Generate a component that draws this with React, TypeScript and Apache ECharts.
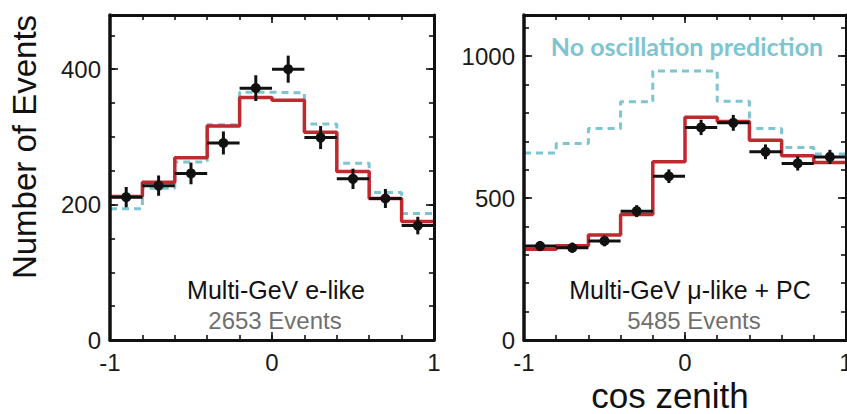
import { useEffect, useRef } from 'react';
import * as echarts from 'echarts';

// Zenith-angle bins (cos θ), shared by both panels
const binEdges = [-1, -0.8, -0.6, -0.4, -0.2, 0, 0.2, 0.4, 0.6, 0.8, 1];

// Multi-GeV e-like
const eLikeObserved = [211, 228, 246, 291, 372, 400, 299, 238, 209, 169];
const eLikeError = [15, 15, 16, 17, 19, 20, 17, 15, 14, 13];
const eLikeOscillation = [212, 233, 269, 316, 358, 354, 307, 249, 209, 175];
const eLikeNoOscillation = [194, 224, 263, 318, 366, 365, 319, 261, 218, 187];

// Multi-GeV mu-like + PC
const muLikeObserved = [331, 325, 349, 454, 577, 749, 765, 663, 622, 645];
const muLikeError = [18, 18, 19, 21, 24, 27, 28, 26, 25, 25];
const muLikeOscillation = [320, 332, 370, 442, 628, 785, 770, 704, 649, 625];
const muLikeNoOscillation = [659, 692, 745, 839, 948, 948, 841, 745, 678, 655];

// Axis ticks
const xMajorStep = 1;
const xMinorStep = 0.2;
const eLikeYMax = 480;
const eLikeYMajor = 200;
const eLikeYMinor = 50;
const muLikeYMax = 1145;
const muLikeYMajor = 500;
const muLikeYMinor = 100;

const FONT = '"Liberation Sans", Arial, Helvetica, sans-serif';
const INK = '#111111';
const RED = '#c0292d';
const CYAN = '#7ec5d1';
const GREY = '#6f6f6f';

const binCenters = binEdges.slice(0, -1).map((e, i) => (e + binEdges[i + 1]) / 2);
const halfBin = (binEdges[1] - binEdges[0]) / 2;

function stepPoints(values: number[]) {
  const pts: number[][] = values.map((v, i) => [binEdges[i], v]);
  pts.push([binEdges[binEdges.length - 1], values[values.length - 1]]);
  return pts;
}

const tickStyle = { color: INK, width: 1.6 };

function axisSet(
  kind: 'x' | 'y',
  gridIndex: number,
  min: number,
  max: number,
  major: number,
  minor: number,
) {
  const sides = kind === 'x' ? ['bottom', 'top'] : ['left', 'right'];
  const out: any[] = [];
  sides.forEach((pos, sideIdx) => {
    const base = {
      type: 'value',
      gridIndex,
      position: pos,
      min,
      max,
      z: 10,
      splitLine: { show: false },
    };
    const lineWidth = kind === 'y' && sideIdx === 0 ? 3.5 : 3;
    out.push({
      ...base,
      interval: major,
      axisLine: { show: true, onZero: false, lineStyle: { color: INK, width: lineWidth } },
      axisTick: { show: true, inside: true, length: 8, lineStyle: tickStyle },
      axisLabel:
        sideIdx === 0
          ? {
              show: true,
              margin: kind === 'x' ? 10 : 9,
              fontSize: 24,
              fontFamily: FONT,
              color: '#1a1a1a',
              hideOverlap: false,
              formatter: (v: number) =>
                Math.abs(v / major - Math.round(v / major)) < 1e-6 ? String(v) : '',
            }
          : { show: false },
    });
    out.push({
      ...base,
      interval: minor,
      axisLine: { show: false, onZero: false },
      axisTick: { show: true, inside: true, length: 5, lineStyle: tickStyle },
      axisLabel: { show: false },
    });
  });
  return out;
}

function pointSeries(axisIndex: number, values: number[], errors: number[]) {
  return {
    type: 'custom',
    xAxisIndex: axisIndex,
    yAxisIndex: axisIndex,
    z: 6,
    encode: { x: 0, y: 1 },
    data: binCenters.map((c, i) => [c, values[i], errors[i]]),
    renderItem: (_params: any, api: any) => {
      const x = api.value(0);
      const y = api.value(1);
      const e = api.value(2);
      const c = api.coord([x, y]);
      const l = api.coord([x - halfBin, y]);
      const r = api.coord([x + halfBin, y]);
      const t = api.coord([x, y + e]);
      const b = api.coord([x, y - e]);
      const style = { stroke: INK, lineWidth: 3 };
      return {
        type: 'group',
        children: [
          { type: 'line', shape: { x1: l[0], y1: l[1], x2: r[0], y2: r[1] }, style },
          { type: 'line', shape: { x1: t[0], y1: t[1], x2: b[0], y2: b[1] }, style },
          { type: 'circle', shape: { cx: c[0], cy: c[1], r: 5 }, style: { fill: INK } },
        ],
      };
    },
  };
}

function stepSeries(axisIndex: number, values: number[], color: string, dashed: boolean) {
  return {
    type: 'line',
    xAxisIndex: axisIndex,
    yAxisIndex: axisIndex,
    step: 'end',
    symbol: 'none',
    z: dashed ? 2 : 3,
    data: stepPoints(values),
    lineStyle: dashed
      ? { color, width: 3, type: [7, 5] }
      : { color, width: 3.5 },
  };
}

function label(text: string, x: number, y: number, size: number, fill: string, extra: any = {}) {
  return {
    type: 'text',
    x,
    y,
    ...extra,
    style: {
      text,
      fill,
      fontSize: size,
      fontFamily: extra.fontFamily || FONT,
      fontWeight: extra.fontWeight || 'normal',
      align: 'center',
      verticalAlign: 'middle',
      textAlign: 'center',
      textVerticalAlign: 'middle',
    },
  };
}

export default function App() {
  const ref = useRef<HTMLDivElement>(null);

  useEffect(() => {
    if (!ref.current) return;
    const chart = echarts.init(ref.current, null, { renderer: 'svg' });

    const xAxes = [
      ...axisSet('x', 0, -1, 1, xMajorStep, xMinorStep),
      ...axisSet('x', 1, -1, 1, xMajorStep, xMinorStep),
    ];
    const yAxes = [
      ...axisSet('y', 0, 0, eLikeYMax, eLikeYMajor, eLikeYMinor),
      ...axisSet('y', 1, 0, muLikeYMax, muLikeYMajor, muLikeYMinor),
    ];

    chart.setOption({
      animation: false,
      backgroundColor: '#ffffff',
      grid: [
        { left: 110, top: 15, width: 324, height: 325, outerBoundsMode: 'none', containLabel: false },
        { left: 524, top: 15, width: 322, height: 325, outerBoundsMode: 'none', containLabel: false },
      ],
      xAxis: xAxes,
      yAxis: yAxes,
      series: [
        stepSeries(0, eLikeNoOscillation, CYAN, true),
        stepSeries(0, eLikeOscillation, RED, false),
        pointSeries(0, eLikeObserved, eLikeError),
        stepSeries(4, muLikeNoOscillation, CYAN, true),
        stepSeries(4, muLikeOscillation, RED, false),
        pointSeries(4, muLikeObserved, muLikeError),
      ],
      graphic: [
        label('Number of Events', 24, 147, 33, INK, { rotation: Math.PI / 2 }),
        label('cos zenith', 670, 395, 35, INK),
        label('Multi-GeV e-like', 276, 290, 25, INK),
        label('2653 Events', 275, 320, 24, GREY),
        label('Multi-GeV \u03bc-like + PC', 690, 290, 25, INK),
        label('5485 Events', 694, 320, 24, GREY),
        label('No oscillation prediction', 687, 46, 25, CYAN, {
          fontFamily: 'Lato, "Open Sans", sans-serif',
          fontWeight: 'bold',
        }),
      ],
    });

    return () => chart.dispose();
  }, []);

  return (
    <div
      ref={ref}
      style={{ position: 'fixed', left: 0, top: 0, width: 847, height: 414 }}
    />
  );
}
